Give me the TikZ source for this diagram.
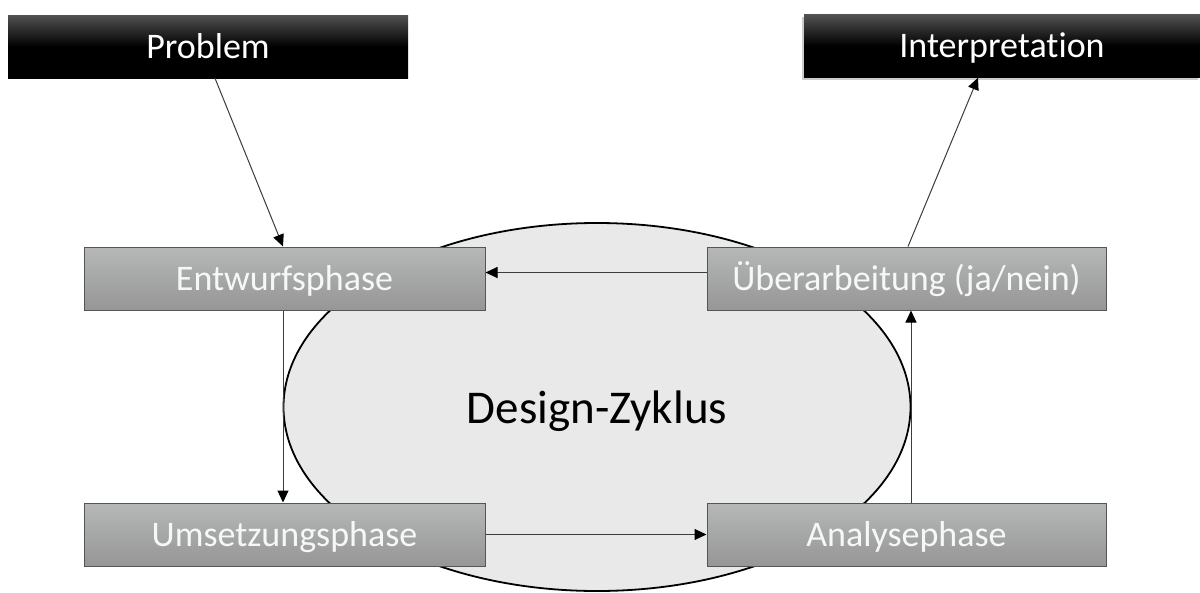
\documentclass[tikz,border=0pt]{standalone}
\usepackage{fontspec}
\setmainfont[Ligatures=NoCommon]{Carlito}
\usetikzlibrary{arrows.meta,shadows,shapes.geometric}
\definecolor{phasetop}{RGB}{182,183,183}
\definecolor{phasebot}{RGB}{150,150,150}
\definecolor{phaseline}{RGB}{85,85,85}
\definecolor{headtop}{RGB}{82,82,82}
\definecolor{cyclefill}{RGB}{233,233,233}
\definecolor{linkcol}{RGB}{60,60,60}
\tikzset{
  phasebox/.style={draw=phaseline, line width=1pt, top color=phasetop, bottom color=phasebot,
    minimum width=401pt, minimum height=63pt, inner sep=0pt,
    text=white!97!black, font=\fontsize{36}{40}\selectfont, text height=23pt, text depth=0pt},
  headbox/.style={fill=black, top color=headtop, bottom color=black, middle color=black,
    minimum height=63pt, inner sep=0pt,
    text=white, font=\fontsize{36}{40}\selectfont, text height=23pt, text depth=0pt},
  link/.style={draw=linkcol, line width=1pt, -{Triangle[length=12pt,width=11pt,color=black]}},
}
\begin{document}
\begin{tikzpicture}[x=1pt,y=-1pt]
\useasboundingbox (0,0) rectangle (1200,592);
% cycle ellipse in the middle
\node[draw=black, line width=1.8pt, fill=cyclefill, ellipse, minimum width=627pt, minimum height=368pt, inner sep=0pt] (cyc) at (597,407) {};
\node[font=\fontsize{47}{52}\selectfont, anchor=base] (cyctext) at (597,423) {Design-Zyklus};
% head boxes
\node[headbox, minimum width=400pt] (prob) at (208,46.5) {Problem};
\node[headbox, minimum width=396pt, drop shadow={shadow xshift=-2.5pt, shadow yshift=-2.5pt, opacity=0.4}] (interp) at (1002,46) {Interpretation};
% phase boxes
\node[phasebox] (entw) at (284.5,278.5) {Entwurfsphase};
\node[phasebox, minimum width=399pt] (ueber) at (906.5,278.5) {Überarbeitung (ja/nein)};
\node[phasebox] (umset) at (284.5,534.5) {Umsetzungsphase};
\node[phasebox, minimum width=399pt] (anal) at (906.5,534.5) {Analysephase};
% connectors
\draw[link] ([xshift=7pt]prob.south) -- ([xshift=-1.5pt]entw.north);
\draw[link] ([yshift=6pt]ueber.west) -- ([yshift=6pt]entw.east);
\draw[link] ([xshift=-1.5pt]entw.south) -- ([xshift=-1.5pt]umset.north);
\draw[link] (umset.east) -- (anal.west);
\draw[link] ([xshift=4.5pt]anal.north) -- ([xshift=4.5pt]ueber.south);
\draw[link] ([xshift=1.5pt]ueber.north) -- ([xshift=-24pt]interp.south);
\end{tikzpicture}
\end{document}
